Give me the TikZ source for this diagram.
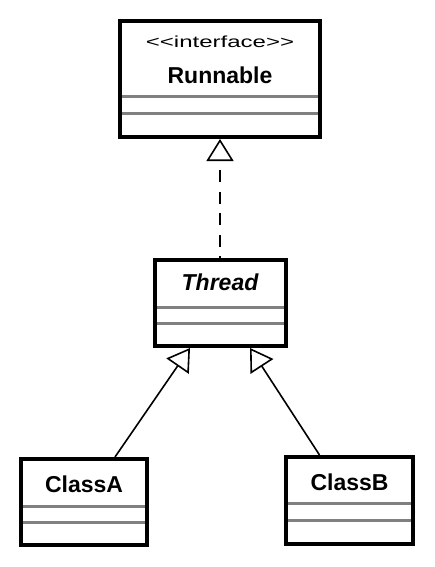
\documentclass[tikz,border=0pt]{standalone}
\usepackage{fontspec}
\setmainfont{Liberation Sans}
\newfontfamily\stereofont[FakeStretch=1.5]{Liberation Sans}
\usetikzlibrary{arrows.meta}

\tikzset{
    classbox/.style={draw,line width=4pt,rectangle,inner sep=0pt,outer sep=2pt},
    member/.style={draw=gray,line width=3pt,shorten <=4pt,shorten >=4pt},
    classname/.style={anchor=base,font=\bfseries\fontsize{23}{27}\selectfont},
    extends/.style={line width=1.6pt,-{Triangle[open,length=22pt,width=27pt]}},
    implements/.style={extends,dash pattern=on 12pt off 9.5pt,dash phase=10pt}
}

\begin{document}
\begin{tikzpicture}[x=1pt,y=-1pt]
    \useasboundingbox (0,0) rectangle (434,567);
    \node[classbox,minimum width=200pt,minimum height=116pt] (runnable) at (220,79) {};
    \node[anchor=base,font=\stereofont\fontsize{16}{18}\selectfont] (runnable-stereo) at (220,48) {<\kern0pt<interface>\kern0pt>};
    \node[classname] (runnable-name) at (220,84) {Runnable};
    \node[classbox,minimum width=131pt,minimum height=86pt] (thread) at (220,303) {};
    \node[classname] (thread-name) at (220,290) {\itshape Thread};
    \node[classbox,minimum width=126pt,minimum height=86pt] (classA) at (84,502) {};
    \node[classname] (classA-name) at (84,492) {ClassA};
    \node[classbox,minimum width=127pt,minimum height=87pt] (classB) at (349.5,500.5) {};
    \node[classname] (classB-name) at (349.5,490) {ClassB};
    \foreach \cls/\ya/\yb in {runnable/97/114,thread/307/323,classA/506/522,classB/503/520}{
        \draw[member] (\cls.west |- 0,\ya) -- (\cls.east |- 0,\ya);
        \draw[member] (\cls.west |- 0,\yb) -- (\cls.east |- 0,\yb);
    }
    \draw[implements] (thread.north) -- (runnable.south);
    \draw[extends] ([xshift=31pt]classA.north) -- ([xshift=-30pt]thread.south);
    \draw[extends] ([xshift=-30pt]classB.north) -- ([xshift=30pt]thread.south);
\end{tikzpicture}
\end{document}
